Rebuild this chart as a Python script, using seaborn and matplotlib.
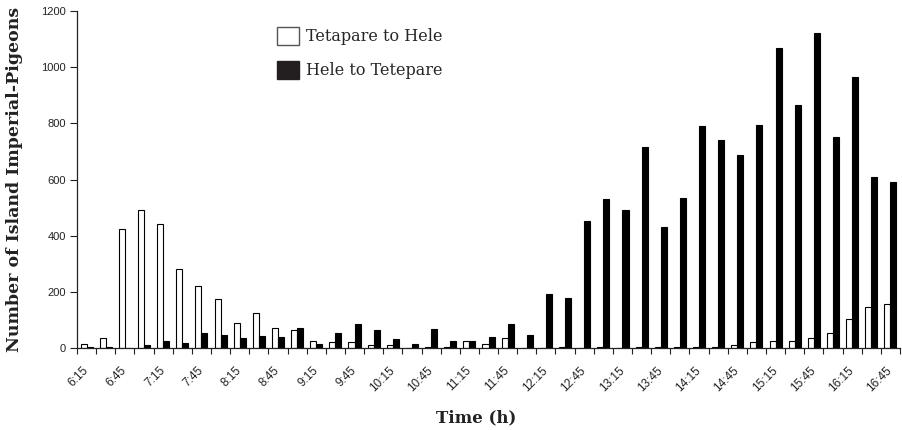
import numpy as np
import pandas as pd
import matplotlib.pyplot as plt
import matplotlib.transforms as mtransforms
import seaborn as sns
from matplotlib.patches import Patch

# Data (15-min counts)
times = ["6:15", "6:30", "6:45", "7:00", "7:15", "7:30", "7:45", "8:00", "8:15", "8:30",
         "8:45", "9:00", "9:15", "9:30", "9:45", "10:00", "10:15", "10:30", "10:45", "11:00",
         "11:15", "11:30", "11:45", "12:00", "12:15", "12:30", "12:45", "13:00", "13:15", "13:30",
         "13:45", "14:00", "14:15", "14:30", "14:45", "15:00", "15:15", "15:30", "15:45", "16:00",
         "16:15", "16:30", "16:45"]
tetapare_to_hele = [15, 34, 422, 493, 443, 281, 220, 174, 89, 124,
                    70, 63, 25, 21, 21, 12, 10, 0, 4, 4,
                    24, 14, 34, 0, 0, 3, 0, 3, 0, 3,
                    3, 3, 3, 3, 11, 21, 24, 24, 34, 52,
                    105, 146, 157]
hele_to_tetepare = [5, 4, 0, 9, 26, 19, 54, 47, 37, 43,
                    39, 72, 15, 53, 86, 63, 31, 15, 69, 25,
                    24, 38, 85, 45, 193, 178, 452, 531, 492, 717,
                    431, 535, 790, 739, 686, 795, 1069, 864, 1122, 753,
                    964, 609, 591]
directions = ["Tetapare to Hele", "Hele to Tetepare"]

df = pd.DataFrame({"time": times,
                   directions[0]: tetapare_to_hele,
                   directions[1]: hele_to_tetepare})
long = df.melt(id_vars="time", var_name="direction", value_name="count")

sns.set_style("ticks")
plt.rcParams['font.family'] = ['Liberation Sans', 'DejaVu Sans']

fig = plt.figure(figsize=(9.03, 4.30), dpi=100)
ax = fig.add_axes([77 / 903, 1 - 348 / 430, 823 / 903, 337 / 430])

sns.barplot(data=long, x="time", y="count", hue="direction", hue_order=directions,
            order=times, palette={directions[0]: "white", directions[1]: "black"},
            saturation=1, width=0.63, edgecolor="black", linewidth=0.8,
            legend=False, ax=ax)

ax.set_xlim(-0.5, len(times) - 0.5)
ax.set_ylim(0, 1200)
ax.set_yticks(range(0, 1201, 200))

# labels every other slot, tick marks between slots
ax.set_xticks(range(0, len(times), 2))
ax.set_xticklabels(times[::2], rotation=45, ha="right", va="center",
                   rotation_mode="anchor")
shift = mtransforms.ScaledTranslation(-5 / 100, 0, fig.dpi_scale_trans)
for lab in ax.get_xticklabels():
    lab.set_transform(lab.get_transform() + shift)
ax.set_xticks(np.arange(-0.5, len(times), 1), minor=True)
ax.tick_params(axis="x", which="major", length=0, pad=15, labelsize=8.5, labelcolor="#222222")
ax.tick_params(axis="x", which="minor", length=4, width=0.8, color="#222222")
ax.tick_params(axis="y", length=5, width=0.8, labelsize=8, pad=3, color="#222222",
               labelcolor="#222222")
sns.despine(ax=ax)
for s in ["left", "bottom"]:
    ax.spines[s].set_color("#222222")
    ax.spines[s].set_linewidth(0.9)

ax.set_ylabel("Number of Island Imperial-Pigeons", fontfamily="DejaVu Serif",
              fontweight="bold", fontsize=12.5, color="#222222")
ax.yaxis.set_label_coords(-0.0656, 0.5)
ax.set_xlabel("Time (h)", fontfamily="DejaVu Serif", fontweight="bold",
              fontsize=12, color="#222222")
ax.xaxis.set_label_coords(0.485, -0.181)

handles = [Patch(facecolor="white", edgecolor="#555555", linewidth=1),
           Patch(facecolor="#231f20", edgecolor="#231f20", linewidth=1)]
ax.legend(handles, directions, loc="upper left",
          bbox_to_anchor=(277 / 903, 1 - 27 / 430), bbox_transform=fig.transFigure,
          frameon=False, prop={"family": "DejaVu Serif", "size": 11.5},
          handlelength=1.38, handleheight=1.38, handletextpad=0.45,
          labelspacing=0.95, borderpad=0, borderaxespad=0)

fig.savefig("out.png", dpi=100)
